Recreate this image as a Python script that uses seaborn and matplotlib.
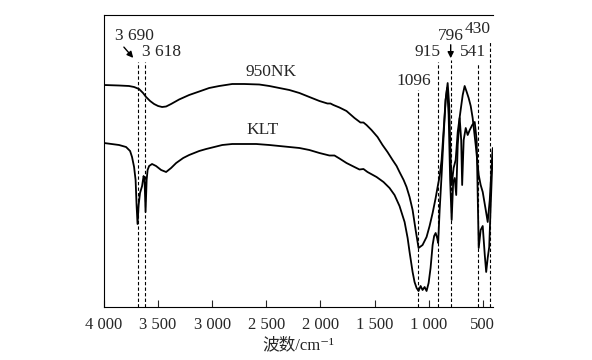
import numpy as np
import pandas as pd
import matplotlib
matplotlib.use("Agg")
import matplotlib.pyplot as plt
import seaborn as sns

# ---- data (wavenumber cm-1, relative transmittance, arbitrary units) ----
nk_wn = [4000, 3861, 3769, 3722, 3676, 3639, 3611, 3574, 3537, 3500, 3463, 3426, 3380, 3306, 3213,
         3120, 3028, 2935, 2815, 2704, 2565, 2472, 2380, 2287, 2194, 2102, 2009, 1935, 1907, 1880,
         1824, 1759, 1685, 1630, 1602, 1574, 1528, 1472, 1426, 1380, 1333, 1296, 1269, 1231, 1204,
         1176, 1148, 1120, 1093, 1056, 1019, 991, 963, 935, 917, 898, 880, 861, 843, 824,
         810, 796, 787, 769, 750, 731, 704, 685, 667, 648, 630, 611, 593, 565, 537,
         519, 500, 472, 454, 435, 417, 407]
nk_t = [222, 221.5, 221, 220, 218, 214, 210, 206, 203, 201, 200, 200.5, 203, 207.5, 212,
        215.5, 219, 221, 223, 223, 222.5, 221, 219, 217, 214, 210, 206, 203.5, 203.5, 202,
        199.5, 196, 189, 184.5, 184.5, 182, 177, 170, 162, 155, 147, 141, 135, 127, 120,
        110, 97, 77, 59, 62, 70, 81, 94, 109, 120, 131, 147, 177, 207, 224,
        202, 147, 122, 139, 147, 175, 197, 212, 221, 215, 209, 201, 189, 162, 132,
        122, 115, 97, 85, 107, 142, 159]

klt_wn = [4000, 3861, 3796, 3759, 3741, 3722, 3708, 3699, 3690, 3680, 3667, 3648, 3634, 3625, 3616,
          3606, 3597, 3583, 3556, 3519, 3472, 3426, 3380, 3333, 3268, 3213, 3120, 3056, 2981, 2907,
          2815, 2593, 2472, 2380, 2287, 2194, 2102, 2009, 1917, 1870, 1824, 1759, 1704, 1639, 1602,
          1565, 1481, 1417, 1361, 1315, 1269, 1222, 1194, 1176, 1148, 1130, 1111, 1093, 1074, 1056,
          1037, 1019, 1000, 982, 963, 949, 935, 921, 912, 898, 880, 861, 843, 829, 815,
          801, 787, 773, 759, 745, 731, 713, 699, 690, 676, 657, 639, 620, 597, 574,
          556, 537, 519, 500, 481, 468, 454, 440, 426, 407]
klt_t = [164, 162, 160, 156, 150, 140, 127, 102, 83, 102, 114, 121, 131, 127, 95,
         127, 137, 141, 143, 141, 137, 135, 139, 144, 149, 152, 156, 158, 160, 162,
         163, 163, 162, 161, 160, 159, 157, 154, 151.5, 151.5, 148.5, 144, 141, 137.5, 138,
         135, 130, 125, 119, 112, 101, 85, 69, 55, 35, 25, 19, 16, 21, 17,
         20, 16, 24, 39, 62, 71, 74, 69, 64, 97, 132, 172, 207, 219, 192,
         127, 87, 125, 129, 112, 162, 189, 167, 122, 167, 179, 172, 177, 182, 185,
         167, 59, 77, 81, 52, 35, 49, 60, 102, 157]

peak_wn = [3690, 3618, 1096, 915, 796, 541, 430]
peak_top = [245, 245, 217, 245, 247, 244, 265]

xticks = [4000, 3500, 3000, 2500, 2000, 1500, 1000, 500]
xtick_labels = ["4 000", "3 500", "3 000", "2 500", "2 000", "1 500", "1 000", "500"]

# ---- style ----
sns.set_style("white")
fam = ["Liberation Serif", "Noto Sans CJK SC", "DejaVu Sans"]
plt.rcParams["font.family"] = fam

fig = plt.figure(figsize=(5.92, 3.6), dpi=100)
ax = fig.add_axes([104 / 592, 1 - 307 / 360, (493 - 104) / 592, (307 - 15) / 360])

df_nk = pd.DataFrame({"wn": nk_wn, "t": nk_t})
df_klt = pd.DataFrame({"wn": klt_wn, "t": klt_t})
sns.lineplot(data=df_nk, x="wn", y="t", ax=ax, color="black", lw=1.3,
             sort=False, estimator=None)
sns.lineplot(data=df_klt, x="wn", y="t", ax=ax, color="black", lw=1.3,
             sort=False, estimator=None)

for w, top in zip(peak_wn, peak_top):
    ax.plot([w, w], [0, top], ls=(0, (3, 2)), color="black", lw=0.8)

ax.set_xlim(4000, 405)
ax.set_ylim(0, 292)
ax.set_xticks(xticks)
ax.set_xticklabels(xtick_labels, fontsize=12)
ax.set_yticks([])
ax.tick_params(axis="x", direction="in", length=5, width=0.8, pad=7, bottom=True)
for s in ["left", "top", "bottom"]:
    ax.spines[s].set_visible(True)
    ax.spines[s].set_color("black")
    ax.spines[s].set_linewidth(0.8)
ax.spines["right"].set_visible(False)
ax.set_xlabel("波数/cm⁻¹", fontsize=12, labelpad=3, family=fam)
ax.set_ylabel("")

fs = 12.5
ax.text(3722, 271, "3 690", ha="center", va="center", fontsize=fs)
ax.annotate("", xy=(3713, 247), xytext=(3833, 262),
            arrowprops=dict(arrowstyle="-|>", color="black", lw=1.0, mutation_scale=9))
ax.text(3472, 255, "3 618", ha="center", va="center", fontsize=fs)
ax.text(2454, 235, "950NK", ha="center", va="center", fontsize=fs)
ax.text(2537, 177, "KLT", ha="center", va="center", fontsize=fs)
ax.text(1139, 226, "1096", ha="center", va="center", fontsize=fs)
ax.text(1009, 255, "915", ha="center", va="center", fontsize=fs)
ax.text(796, 271, "796", ha="center", va="center", fontsize=fs)
ax.annotate("", xy=(796, 246), xytext=(796, 265),
            arrowprops=dict(arrowstyle="-|>", color="black", lw=1.0, mutation_scale=9))
ax.text(593, 255, "541", ha="center", va="center", fontsize=fs)
ax.text(546, 278, "430", ha="center", va="center", fontsize=fs)

fig.savefig("out.png", dpi=100)
